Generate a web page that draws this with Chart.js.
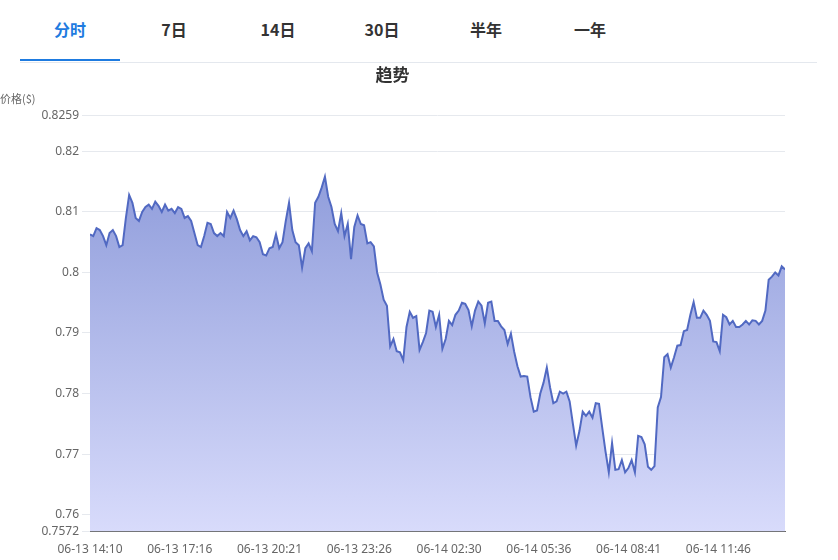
<!DOCTYPE html>
<html><head><meta charset="utf-8">
<script src="https://cdn.jsdelivr.net/npm/chart.js@4"></script>
<style>
body{margin:0;background:#fff;font-family:"Noto Sans CJK SC","Noto Sans",sans-serif;}
#tabs{position:absolute;left:20px;top:0;width:797px;height:62px;border-bottom:1px solid #e4e8ee;}
.tab{position:absolute;top:17px;font-size:16px;font-weight:bold;color:#333;width:100px;text-align:center;}
.tab.on{color:#1e7be0;}
#ul{position:absolute;left:0;top:59px;width:100px;height:2px;background:#1e7be0;}
#wrap{position:absolute;left:0;top:62px;width:838px;height:498px;}
</style></head><body>
<div id="tabs">
<div class="tab on" style="left:0">分时</div>
<div class="tab" style="left:104px">7日</div>
<div class="tab" style="left:208px">14日</div>
<div class="tab" style="left:312px">30日</div>
<div class="tab" style="left:416px">半年</div>
<div class="tab" style="left:520px">一年</div>
<div id="ul"></div>
</div>
<div id="wrap"><canvas id="c"></canvas></div>
<script>
const xTickLabels=["06-13 14:10","06-13 17:16","06-13 20:21","06-13 23:26","06-14 02:30","06-14 05:36","06-14 08:41","06-14 11:46"];
const yTicks=[0.7572,0.76,0.77,0.78,0.79,0.80,0.81,0.82,0.8259];
const prices=[0.8063,0.806,0.8073,0.807,0.806,0.8045,0.8065,0.807,0.806,0.8042,0.8045,0.809,0.8128,0.8115,0.809,0.8085,0.81,0.8108,0.8112,0.8105,0.8117,0.811,0.81,0.8112,0.8102,0.8105,0.8098,0.8108,0.8105,0.809,0.8093,0.8085,0.8065,0.8045,0.8042,0.806,0.8082,0.808,0.8065,0.806,0.8065,0.806,0.81,0.809,0.8102,0.8088,0.807,0.806,0.8068,0.8053,0.806,0.8058,0.805,0.803,0.8028,0.804,0.8042,0.8063,0.804,0.805,0.8085,0.8115,0.807,0.805,0.8045,0.8008,0.804,0.8048,0.8035,0.8115,0.8125,0.814,0.8158,0.8125,0.8108,0.808,0.8068,0.8098,0.806,0.808,0.8022,0.8075,0.8094,0.808,0.8078,0.8048,0.805,0.8043,0.800,0.798,0.7955,0.7945,0.7878,0.789,0.787,0.7868,0.7855,0.791,0.7935,0.7925,0.7928,0.7872,0.7885,0.79,0.7937,0.7935,0.791,0.793,0.7874,0.789,0.792,0.7913,0.793,0.7937,0.795,0.7948,0.7938,0.7911,0.7937,0.7952,0.7945,0.7916,0.795,0.7952,0.792,0.792,0.7911,0.7905,0.7882,0.7899,0.7869,0.7845,0.7828,0.7829,0.7828,0.7794,0.777,0.7772,0.78,0.7818,0.7843,0.781,0.7784,0.7787,0.7803,0.78,0.7803,0.7787,0.775,0.7714,0.7738,0.777,0.7763,0.777,0.776,0.7784,0.7783,0.7743,0.7704,0.767,0.7718,0.7674,0.7675,0.769,0.767,0.7677,0.769,0.767,0.773,0.7728,0.7716,0.7679,0.7674,0.768,0.7777,0.7794,0.786,0.7865,0.7843,0.786,0.7879,0.788,0.7903,0.7905,0.793,0.7951,0.7925,0.7925,0.7937,0.793,0.792,0.7886,0.7885,0.787,0.793,0.7926,0.7914,0.792,0.791,0.791,0.7914,0.792,0.7914,0.7921,0.792,0.7914,0.792,0.7937,0.7988,0.7993,0.8,0.7995,0.801,0.8005];
const spanMin=1440, tickStep=186;
const pts=prices.map((v,i)=>({x:i*spanMin/(prices.length-1),y:v}));
const ctx=document.getElementById('c').getContext('2d');
new Chart(ctx,{type:'line',
data:{datasets:[{data:pts,borderColor:'#5169c2',borderWidth:2,pointRadius:0,tension:0,fill:true,
backgroundColor:(c)=>{const a=c.chart.chartArea;if(!a)return '#a0aae0';const g=c.chart.ctx.createLinearGradient(0,a.top,0,a.bottom);g.addColorStop(0,'#8493d6');g.addColorStop(1,'#d8dbfb');return g;}}]},
options:{responsive:true,maintainAspectRatio:false,animation:false,
layout:{padding:{left:0,right:53,top:0,bottom:0}},
plugins:{legend:{display:false},tooltip:{enabled:false},
title:{display:true,text:'趋势',color:'#333',font:{size:17,weight:'bold',family:'"Noto Sans CJK SC"'},padding:{top:2,bottom:8}},
subtitle:{display:true,text:'价格($)',align:'start',color:'#666',font:{size:11,family:'"Noto Sans CJK SC"'},padding:{left:70,bottom:10}}},
scales:{
x:{type:'linear',min:0,max:spanMin,afterBuildTicks:(s)=>{s.ticks=xTickLabels.map((_,i)=>({value:i*tickStep}));},
ticks:{autoSkip:false,maxRotation:0,color:'#666',font:{size:12,family:'"Noto Sans"'},callback:(v,i)=>xTickLabels[i]},
grid:{display:false},border:{color:'#666'}},
y:{min:yTicks[0],max:yTicks[yTicks.length-1],afterBuildTicks:(s)=>{s.ticks=yTicks.map(v=>({value:v}));},
afterFit:(s)=>{s.width=90;},
ticks:{color:'#666',font:{size:12,family:'"Noto Sans"'},callback:(v)=>String(+v.toFixed(4))},
grid:{color:'#e6e9ee'},border:{display:false}}}}});
</script></body></html>
